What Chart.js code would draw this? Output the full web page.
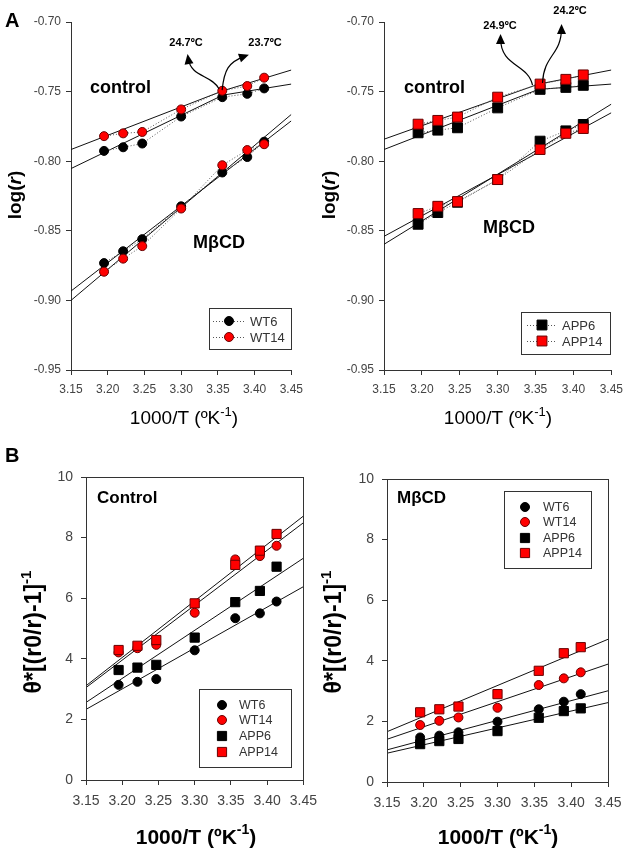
<!DOCTYPE html>
<html>
<head>
<meta charset="utf-8">
<script src="https://cdn.jsdelivr.net/npm/chart.js@4.4.0/dist/chart.umd.min.js"></script>
<style>
html, body { margin: 0; padding: 0; background: #fff; }
#fig { position: relative; width: 630px; height: 859px; overflow: hidden; }
canvas { position: absolute; }
</style>
</head>
<body>
<div id="fig">
  <canvas id="aLeft" width="310" height="430" style="left:0;top:0"></canvas>
  <canvas id="aRight" width="320" height="430" style="left:310px;top:0"></canvas>
  <canvas id="bLeft" width="325" height="429" style="left:0;top:430px"></canvas>
  <canvas id="bRight" width="315" height="429" style="left:315px;top:430px"></canvas>
</div>
<script>
// ---- data ----
const tempX = [3.195, 3.221, 3.247, 3.300, 3.356, 3.390, 3.413];
const fitX = [3.15, 3.45];
const breakXWT = [3.15, 3.357, 3.45];   // control fits in A are broken at the transition
const breakXAPP = [3.15, 3.354, 3.45];
const xTicks = [3.15, 3.20, 3.25, 3.30, 3.35, 3.40, 3.45];
const yTicksA = [-0.95, -0.90, -0.85, -0.80, -0.75, -0.70];
const yTicksB = [0, 2, 4, 6, 8, 10];

// panel A, log(r)
const ctrlWT6 = [-0.7926, -0.7900, -0.7873, -0.7679, -0.7540, -0.7516, -0.7477];
const ctrlWT14 = [-0.7820, -0.7800, -0.7790, -0.7628, -0.7494, -0.7460, -0.7400];
const mbcdWT6 = [-0.8732, -0.8647, -0.8560, -0.8324, -0.8081, -0.7970, -0.7860];
const mbcdWT14 = [-0.8794, -0.8700, -0.8610, -0.8340, -0.8029, -0.7920, -0.7878];
const fitCtrlWT6 = [-0.8053, -0.7525, -0.7446];
const fitCtrlWT14 = [-0.7916, -0.7494, -0.7345];
const fitMbcdWT6 = [-0.8933, -0.7710];
const fitMbcdWT14 = [-0.9000, -0.7664];

const ctrlAPP6 = [-0.7796, -0.7777, -0.7760, -0.7617, -0.7484, -0.7470, -0.7455];
const ctrlAPP14 = [-0.7734, -0.7707, -0.7683, -0.7540, -0.7446, -0.7412, -0.7380];
const mbcdAPP6 = [-0.8453, -0.8369, -0.8295, -0.8132, -0.7856, -0.7782, -0.7736];
const mbcdAPP14 = [-0.8376, -0.8324, -0.8290, -0.8132, -0.7916, -0.7800, -0.7765];
const fitCtrlAPP6 = [-0.7916, -0.7484, -0.7446];
const fitCtrlAPP14 = [-0.7842, -0.7446, -0.7345];
const fitMbcdAPP6 = [-0.8597, -0.7590];
const fitMbcdAPP14 = [-0.8540, -0.7652];

// panel B, theta*[(r0/r)-1]^-1
const bCtrlWT6 = [3.14, 3.24, 3.33, 4.28, 5.34, 5.50, 5.89];
const bCtrlWT14 = [4.21, 4.35, 4.46, 5.52, 7.28, 7.39, 7.73];
const bCtrlAPP6 = [3.63, 3.71, 3.80, 4.70, 5.87, 6.24, 7.04];
const bCtrlAPP14 = [4.29, 4.43, 4.62, 5.83, 7.10, 7.57, 8.12];
const fitBCtrlWT6 = [2.33, 6.38];
const fitBCtrlWT14 = [3.05, 8.49];
const fitBCtrlAPP6 = [2.56, 7.32];
const fitBCtrlAPP14 = [3.11, 8.71];

const bMbWT6 = [1.47, 1.53, 1.64, 1.99, 2.40, 2.65, 2.90];
const bMbWT14 = [1.88, 2.02, 2.13, 2.45, 3.20, 3.42, 3.62];
const bMbAPP6 = [1.25, 1.35, 1.42, 1.68, 2.12, 2.34, 2.43];
const bMbAPP14 = [2.30, 2.40, 2.49, 2.90, 3.67, 4.25, 4.45];
const fitBMbWT6 = [1.06, 3.01];
const fitBMbWT14 = [1.41, 3.89];
const fitBMbAPP6 = [0.95, 2.62];
const fitBMbAPP14 = [1.66, 4.71];

const transA = { left: ["24.7ºC", "23.7ºC"], right: ["24.9ºC", "24.2ºC"] };

// ---- styling helpers ----
const F = '"Liberation Sans", Arial, Helvetica, sans-serif';
const RED = "#ff0000", RED_EDGE = "#6a0000";

const pts = ys => tempX.map((x, i) => ({ x, y: ys[i] }));

function markers(label, ys, style, red, dotted, radius, order) {
    return {
        label, data: pts(ys), showLine: dotted,
        borderColor: "#555", borderWidth: 1, borderDash: [1, 2],
        pointStyle: style, pointRadius: radius,
        pointBackgroundColor: red ? RED : "#000",
        pointBorderColor: red ? RED_EDGE : "#000",
        pointBorderWidth: 1, order
    };
}
function fitLine(ys, xs = fitX) {
    return {
        data: xs.map((x, i) => ({ x, y: ys[i] })),
        showLine: true, borderColor: "#111", borderWidth: 1, pointRadius: 0, order: 20
    };
}

function drawRich(ctx, parts, x, y, rot, align) {
    ctx.save();
    ctx.translate(x, y);
    if (rot) ctx.rotate(rot);
    let w = 0;
    parts.forEach(p => { ctx.font = p.font; w += ctx.measureText(p.t).width; });
    let cx = align === "left" ? 0 : -w / 2;
    ctx.textBaseline = "middle";
    parts.forEach(p => {
        ctx.font = p.font;
        ctx.fillStyle = p.color || "#000";
        ctx.fillText(p.t, cx, p.dy || 0);
        cx += ctx.measureText(p.t).width;
    });
    ctx.restore();
}

function drawMarker(ctx, style, red, x, y, r) {
    ctx.save();
    ctx.fillStyle = red ? RED : "#000";
    ctx.strokeStyle = red ? RED_EDGE : "#000";
    ctx.lineWidth = 1;
    ctx.beginPath();
    if (style === "rect") {
        const s = r * Math.SQRT1_2;
        ctx.rect(x - s, y - s, 2 * s, 2 * s);
    } else {
        ctx.arc(x, y, r, 0, Math.PI * 2);
    }
    ctx.fill();
    ctx.stroke();
    ctx.restore();
}

const decor = {
    id: "decor",
    afterDraw(chart, args, o) {
        const ctx = chart.ctx, a = chart.chartArea;
        if (o.frame) {
            ctx.save();
            ctx.strokeStyle = "#333";
            ctx.lineWidth = 1;
            ctx.strokeRect(Math.round(a.left) + 0.5, Math.round(a.top) + 0.5,
                Math.round(a.right - a.left), Math.round(a.bottom - a.top));
            ctx.restore();
        }
        // curved arrows from the transition point
        (o.arrows || []).forEach(ar => {
            const ox = chart.scales.x.getPixelForValue(ar.at[0]);
            const oy = chart.scales.y.getPixelForValue(ar.at[1]);
            const p = ar.path.map(q => [ox + q[0], oy + q[1]]);
            ctx.save();
            ctx.strokeStyle = "#000";
            ctx.fillStyle = "#000";
            ctx.lineWidth = 1.2;
            ctx.beginPath();
            ctx.moveTo(p[0][0], p[0][1]);
            ctx.bezierCurveTo(p[1][0], p[1][1], p[2][0], p[2][1], p[3][0], p[3][1]);
            ctx.stroke();
            const ang = Math.atan2(p[3][1] - p[2][1], p[3][0] - p[2][0]);
            ctx.translate(p[3][0], p[3][1]);
            ctx.rotate(ang);
            ctx.beginPath();
            ctx.moveTo(4, 0);
            ctx.lineTo(-6, -4.5);
            ctx.lineTo(-6, 4.5);
            ctx.closePath();
            ctx.fill();
            ctx.restore();
        });
        // legend box
        if (o.legend) {
            const L = o.legend;
            ctx.save();
            ctx.strokeStyle = "#333";
            ctx.lineWidth = 1;
            ctx.strokeRect(L.x + 0.5, L.y + 0.5, L.w, L.h);
            L.items.forEach((it, i) => {
                const y = L.rows[i];
                if (L.line) {
                    ctx.save();
                    ctx.strokeStyle = "#555";
                    ctx.setLineDash([1, 2]);
                    ctx.beginPath();
                    ctx.moveTo(L.line[0], y + 0.5);
                    ctx.lineTo(L.line[1], y + 0.5);
                    ctx.stroke();
                    ctx.restore();
                }
                drawMarker(ctx, it.style, it.red, L.mx, y, it.r);
                ctx.font = L.font;
                ctx.fillStyle = "#333";
                ctx.textBaseline = "middle";
                ctx.fillText(it.label, L.tx, y + 1);
            });
            ctx.restore();
        }
        (o.texts || []).forEach(t => drawRich(ctx, t.parts, t.x, t.y, t.rot, t.align));
    }
};

function makeChart(id, c) {
    const canvas = document.getElementById(id);
    const W = canvas.width, H = canvas.height, area = c.area;
    return new Chart(canvas, {
        type: "scatter",
        data: { datasets: c.datasets },
        plugins: [decor],
        options: {
            responsive: false, animation: false, events: [],
            layout: { padding: { left: 0, top: area.t, right: W - area.r, bottom: 0 } },
            plugins: { legend: { display: false }, tooltip: { enabled: false }, decor: c.decor },
            scales: {
                x: {
                    type: "linear", min: 3.15, max: 3.45,
                    afterBuildTicks: s => { s.ticks = xTicks.map(v => ({ value: v })); },
                    afterFit: s => { s.height = H - area.b; },
                    ticks: { callback: v => v.toFixed(2), color: "#444", font: { family: F, size: c.tickSize }, padding: c.xPad, maxRotation: 0, autoSkip: false },
                    grid: { display: true, drawOnChartArea: false, drawTicks: true, tickLength: 5, tickColor: "#333" },
                    border: { display: true, color: "#333", width: 1 }
                },
                y: {
                    type: "linear", min: c.yMin, max: c.yMax,
                    afterBuildTicks: s => { s.ticks = c.yTicks.map(v => ({ value: v })); },
                    afterFit: s => { s.width = area.l; },
                    ticks: { callback: c.yFmt, color: "#444", font: { family: F, size: c.tickSize }, padding: c.yPad },
                    grid: { display: true, drawOnChartArea: false, drawTicks: true, tickLength: 5, tickColor: "#333" },
                    border: { display: true, color: "#333", width: 1 }
                }
            }
        }
    });
}

const fmt2 = v => v.toFixed(2);
const fmt0 = v => String(v);
const xTitleA = [
    { t: "1000/T (ºK", font: "19px " + F },
    { t: "-1", font: "13px " + F, dy: -7 },
    { t: ")", font: "19px " + F }
];
const xTitleB = [
    { t: "1000/T (ºK", font: "bold 21px " + F },
    { t: "-1", font: "bold 14px " + F, dy: -8 },
    { t: ")", font: "bold 21px " + F }
];
const yTitleA = [
    { t: "log(", font: "bold 19px " + F },
    { t: "r", font: "italic bold 19px " + F },
    { t: ")", font: "bold 19px " + F }
];
const yTitleB = [
    { t: "θ*[(r0/r)-1]", font: "bold 23px " + F },
    { t: "-1", font: "bold 15px " + F, dy: -8 }
];
const big = s => [{ t: s, font: "bold 18px " + F }];
const small = s => [{ t: s, font: "bold 11px " + F }];

// ---- Panel A, left: WT ----
makeChart("aLeft", {
    area: { l: 71, r: 297, t: 22, b: 370 },
    yMin: -0.95, yMax: -0.70, yTicks: yTicksA, yFmt: fmt2, tickSize: 12, xPad: 7, yPad: 5,
    datasets: [
        markers("WT14", ctrlWT14, "circle", true, true, 4.5, 1),
        markers("WT6", ctrlWT6, "circle", false, true, 4.5, 2),
        markers("WT14", mbcdWT14, "circle", true, true, 4.5, 1),
        markers("WT6", mbcdWT6, "circle", false, true, 4.5, 2),
        fitLine(fitCtrlWT6, breakXWT), fitLine(fitCtrlWT14, breakXWT),
        fitLine(fitMbcdWT6), fitLine(fitMbcdWT14)
    ],
    decor: {
        arrows: [
            { at: [3.3558, -0.7489], path: [[-3, -1], [-11, -16], [-31, -12], [-34, -32]] },
            { at: [3.3558, -0.7489], path: [[0, 0], [2, -20], [6, -28], [23, -34]] }
        ],
        legend: {
            x: 209, y: 308, w: 82, h: 41, rows: [321, 337], mx: 229, tx: 250, line: [213, 245],
            font: "13px " + F,
            items: [
                { label: "WT6", style: "circle", red: false, r: 4.5 },
                { label: "WT14", style: "circle", red: true, r: 4.5 }
            ]
        },
        texts: [
            { parts: [{ t: "A", font: "bold 20px " + F }], x: 5, y: 21, align: "left" },
            { parts: yTitleA, x: 16, y: 195, rot: -Math.PI / 2 },
            { parts: xTitleA, x: 184, y: 419 },
            { parts: big("control"), x: 90, y: 88, align: "left" },
            { parts: big("MβCD"), x: 193, y: 243, align: "left" },
            { parts: small(transA.left[0]), x: 186, y: 43 },
            { parts: small(transA.left[1]), x: 265, y: 43 }
        ]
    }
});

// ---- Panel A, right: APP ----
makeChart("aRight", {
    area: { l: 74, r: 302, t: 22, b: 370 },
    yMin: -0.95, yMax: -0.70, yTicks: yTicksA, yFmt: fmt2, tickSize: 12, xPad: 7, yPad: 5,
    datasets: [
        markers("APP14", ctrlAPP14, "rect", true, true, 7, 1),
        markers("APP6", ctrlAPP6, "rect", false, true, 7, 2),
        markers("APP14", mbcdAPP14, "rect", true, true, 7, 1),
        markers("APP6", mbcdAPP6, "rect", false, true, 7, 2),
        fitLine(fitCtrlAPP6, breakXAPP), fitLine(fitCtrlAPP14, breakXAPP),
        fitLine(fitMbcdAPP6), fitLine(fitMbcdAPP14)
    ],
    decor: {
        arrows: [
            { at: [3.3526, -0.7453], path: [[-5, 0], [-10, -22], [-37, -18], [-37, -47]] },
            { at: [3.3526, -0.7453], path: [[5, -2], [6, -30], [24, -30], [24, -57]] }
        ],
        legend: {
            x: 211, y: 312, w: 89, h: 42, rows: [325, 341], mx: 232, tx: 252, line: [217, 246],
            font: "13px " + F,
            items: [
                { label: "APP6", style: "rect", red: false, r: 7 },
                { label: "APP14", style: "rect", red: true, r: 7 }
            ]
        },
        texts: [
            { parts: yTitleA, x: 20, y: 195, rot: -Math.PI / 2 },
            { parts: xTitleA, x: 188, y: 419 },
            { parts: big("control"), x: 94, y: 88, align: "left" },
            { parts: big("MβCD"), x: 173, y: 228, align: "left" },
            { parts: small(transA.right[0]), x: 190, y: 26 },
            { parts: small(transA.right[1]), x: 260, y: 11 }
        ]
    }
});

// ---- Panel B, left: control ----
const legendB = [
    { label: "WT6", style: "circle", red: false, r: 4.5 },
    { label: "WT14", style: "circle", red: true, r: 4.5 },
    { label: "APP6", style: "rect", red: false, r: 6.5 },
    { label: "APP14", style: "rect", red: true, r: 6.5 }
];
makeChart("bLeft", {
    area: { l: 86, r: 307, t: 47, b: 350 },
    yMin: 0, yMax: 10, yTicks: yTicksB, yFmt: fmt0, tickSize: 14, xPad: 8, yPad: 8,
    datasets: [
        markers("APP14", bCtrlAPP14, "rect", true, false, 6.5, 1),
        markers("WT14", bCtrlWT14, "circle", true, false, 4.5, 2),
        markers("APP6", bCtrlAPP6, "rect", false, false, 6.5, 3),
        markers("WT6", bCtrlWT6, "circle", false, false, 4.5, 4),
        fitLine(fitBCtrlWT6), fitLine(fitBCtrlWT14), fitLine(fitBCtrlAPP6), fitLine(fitBCtrlAPP14)
    ],
    decor: {
        frame: true,
        legend: {
            x: 199, y: 259, w: 92, h: 78, rows: [275, 290, 306, 322], mx: 222, tx: 239,
            font: "12.5px " + F, items: legendB
        },
        texts: [
            { parts: [{ t: "B", font: "bold 20px " + F }], x: 5, y: 26, align: "left" },
            { parts: yTitleB, x: 35, y: 202, rot: -Math.PI / 2 },
            { parts: xTitleB, x: 196, y: 408 },
            { parts: [{ t: "Control", font: "bold 17px " + F }], x: 97, y: 68, align: "left" }
        ]
    }
});

// ---- Panel B, right: MβCD ----
makeChart("bRight", {
    area: { l: 72, r: 293, t: 49, b: 352 },
    yMin: 0, yMax: 10, yTicks: yTicksB, yFmt: fmt0, tickSize: 14, xPad: 8, yPad: 8,
    datasets: [
        markers("APP14", bMbAPP14, "rect", true, false, 6.5, 1),
        markers("WT14", bMbWT14, "circle", true, false, 4.5, 2),
        markers("WT6", bMbWT6, "circle", false, false, 4.5, 3),
        markers("APP6", bMbAPP6, "rect", false, false, 6.5, 4),
        fitLine(fitBMbWT6), fitLine(fitBMbWT14), fitLine(fitBMbAPP6), fitLine(fitBMbAPP14)
    ],
    decor: {
        frame: true,
        legend: {
            x: 189, y: 61, w: 87, h: 77, rows: [77, 92, 108, 123], mx: 210, tx: 228,
            font: "12.5px " + F, items: legendB
        },
        texts: [
            { parts: yTitleB, x: 20, y: 202, rot: -Math.PI / 2 },
            { parts: xTitleB, x: 183, y: 408 },
            { parts: [{ t: "MβCD", font: "bold 17px " + F }], x: 82, y: 68, align: "left" }
        ]
    }
});
</script>
</body>
</html>
